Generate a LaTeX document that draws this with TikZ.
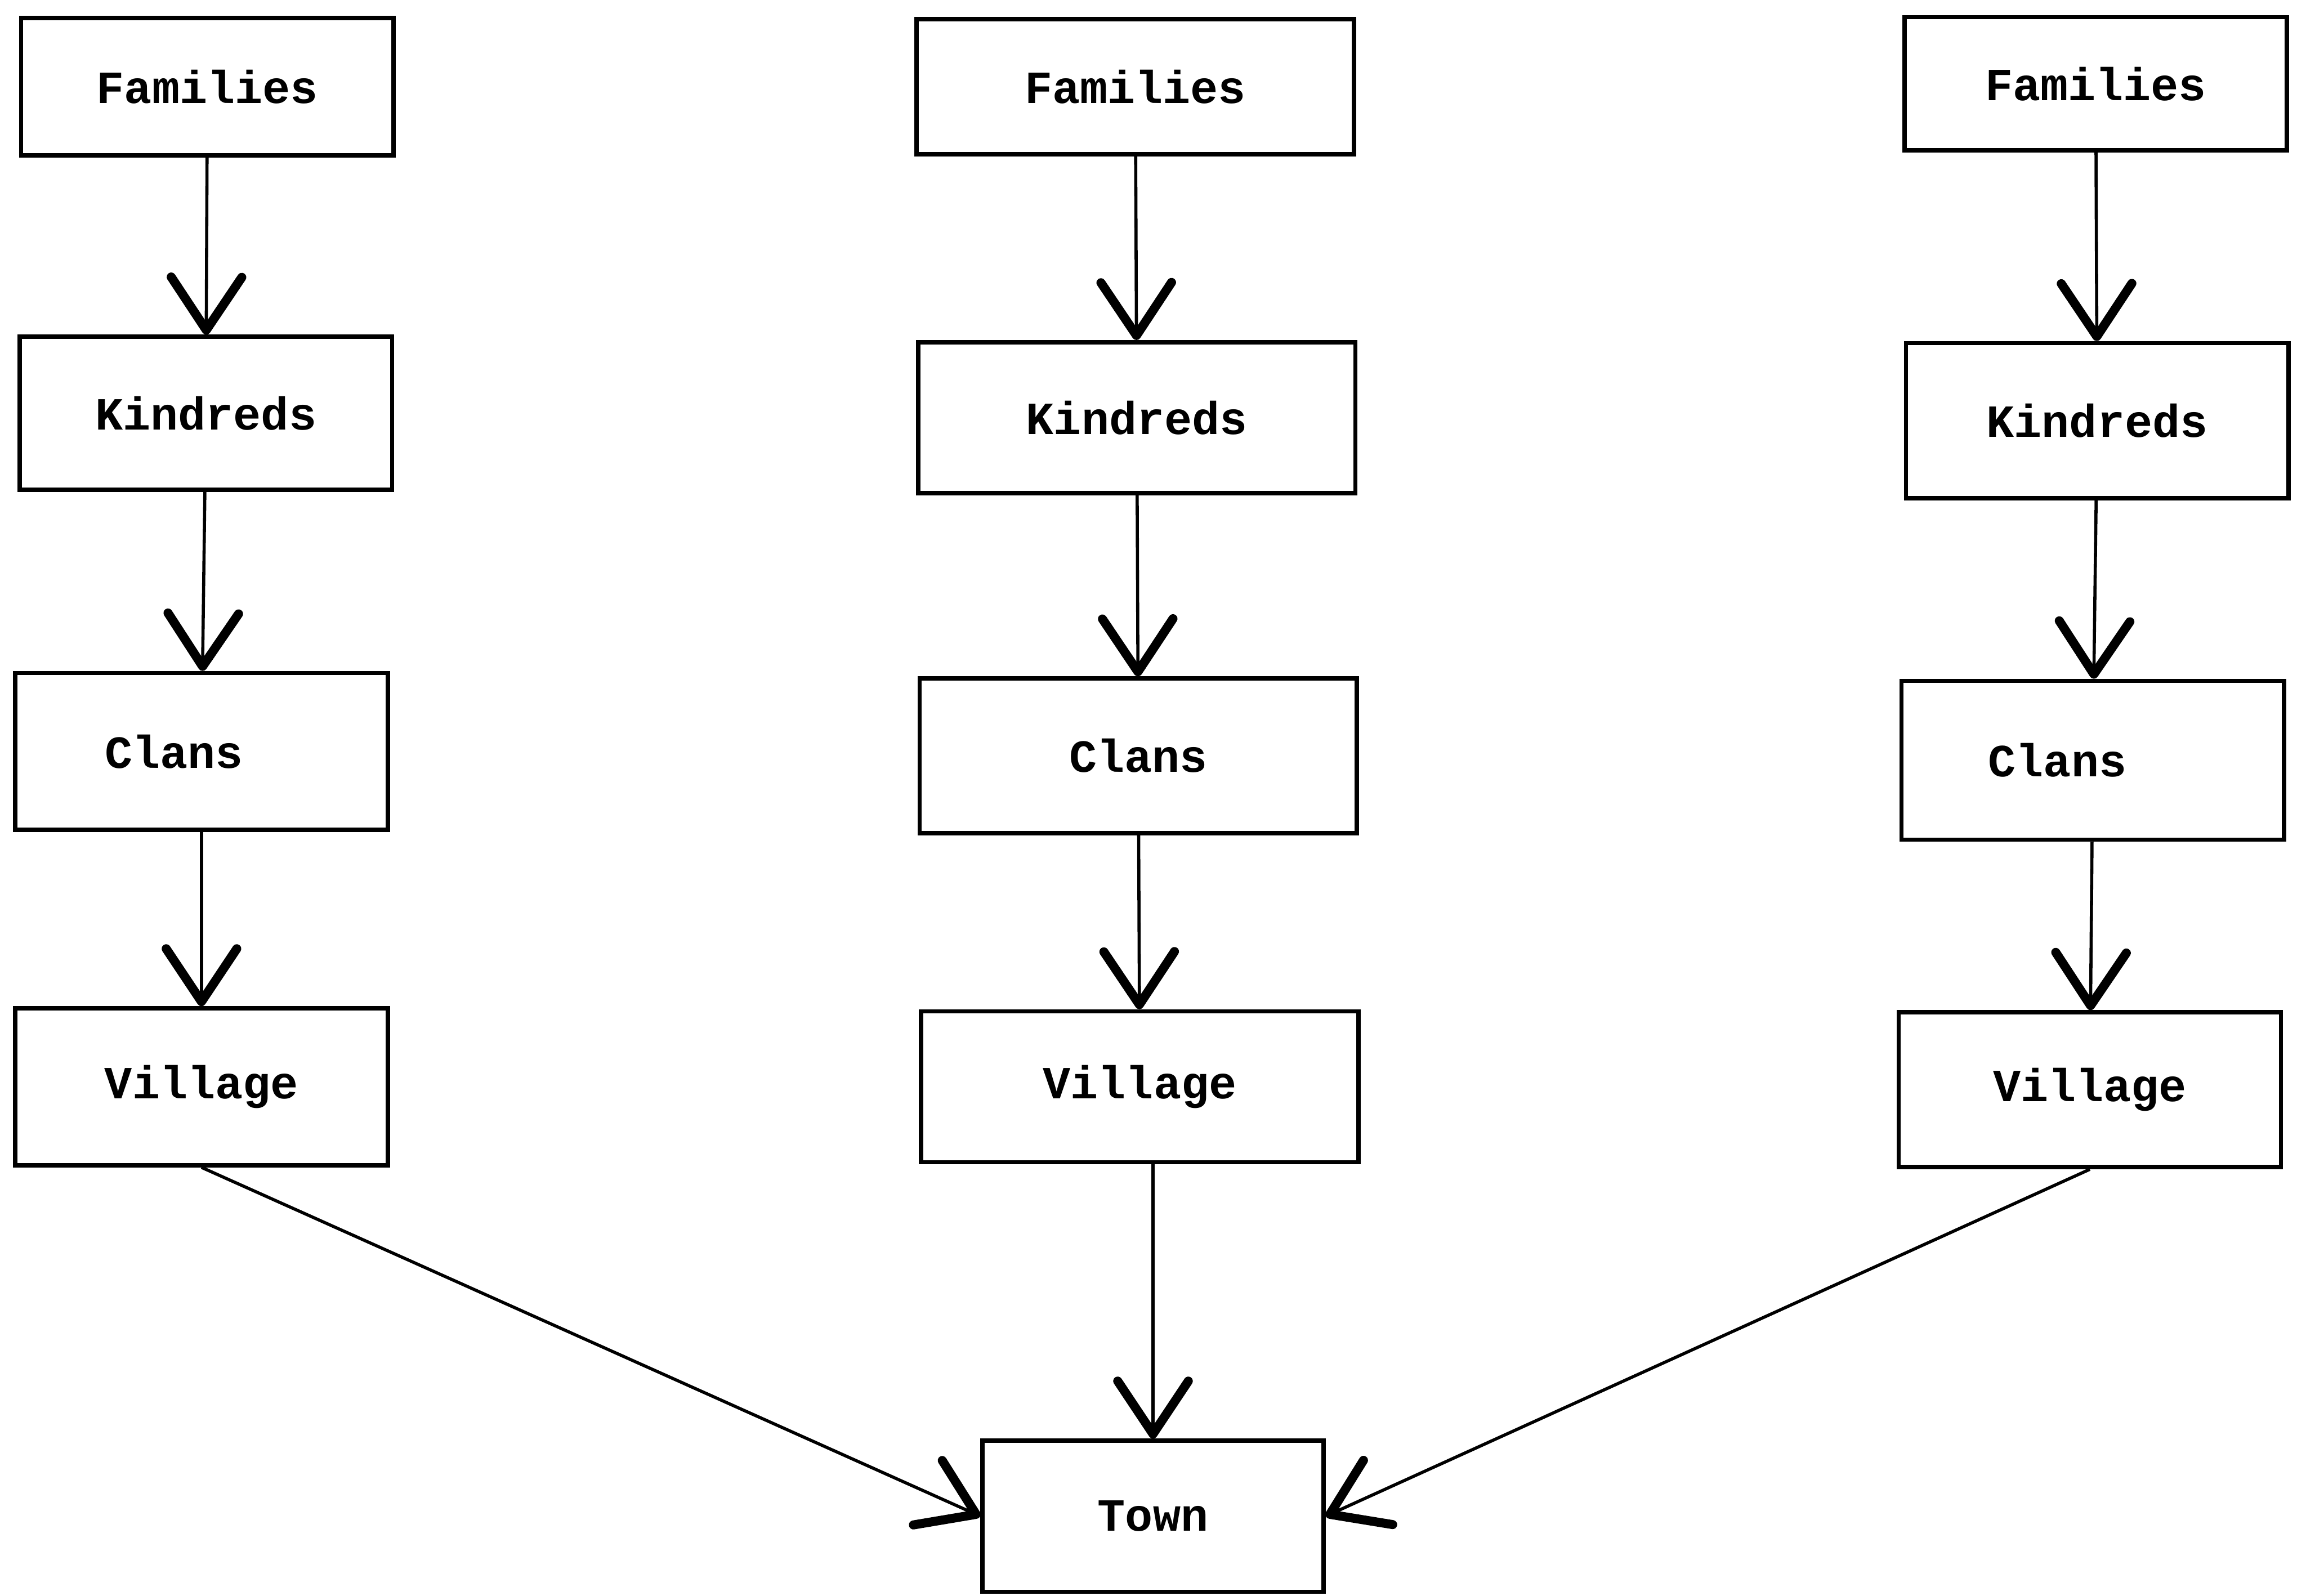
\documentclass[tikz,border=0pt]{standalone}
\usepackage{fontspec}
\setmonofont{Liberation Mono}
\usetikzlibrary{arrows.meta}

\tikzset{every picture/.style={line width=0.75pt}}
\tikzset{
  box/.style={draw, line width=2.2pt, inner sep=0pt, font=\ttfamily\bfseries\fontsize{23.5}{28}\selectfont},
  lvlA/.style={box, minimum width=190pt},
  lvlB/.style={box, minimum width=223pt},
  lvlC/.style={box, minimum width=195pt},
  link/.style={line width=1.6pt, -{Straight Barb[length=27pt,width=36pt,line width=4.6pt,round]}}
}

\begin{document}
\begin{tikzpicture}[x=0.75pt,y=0.75pt,yscale=-1,xscale=1]

\useasboundingbox (0,0) rectangle (1568,1085);

% left column
\node (famA) at (141,59) [lvlA, minimum height=70pt] {Families};
\node (kinA) at (140,281) [lvlA, minimum height=78pt] {Kindreds};
\node (claA) at (137,511) [lvlA, minimum height=80pt] {Clans\hspace*{28pt}};
\node (vilA) at (137,739) [lvlA, minimum height=80pt] {Village};

% middle column
\node (famB) at (772,59) [lvlB, minimum height=69pt] {Families};
\node (kinB) at (773,284) [lvlB, minimum height=77pt] {Kindreds};
\node (claB) at (774,514) [lvlB, minimum height=79pt] {Clans};
\node (vilB) at (775,739) [lvlB, minimum height=77pt] {Village};

% right column
\node (famC) at (1425,57) [lvlC, minimum height=68pt] {Families};
\node (kinC) at (1426,286) [lvlC, minimum height=79pt] {Kindreds};
\node (claC) at (1423,517) [lvlC, minimum height=81pt] {Clans\hspace*{36pt}};
\node (vilC) at (1421,741) [lvlC, minimum height=79pt] {Village};

\node (town) at (784,1031) [box, minimum width=174pt, minimum height=77pt] {Town};

\draw [link] (famA) -- (kinA);
\draw [link] (kinA) -- (claA);
\draw [link] (claA) -- (vilA);
\draw [link] (famB) -- (kinB);
\draw [link] (kinB) -- (claB);
\draw [link] (claB) -- (vilB);
\draw [link] (famC) -- (kinC);
\draw [link] (kinC) -- (claC);
\draw [link] (claC) -- (vilC);

\draw [link] (vilA.south) -- (town.west);
\draw [link] (vilB.south -| town) -- (town.north);
\draw [link] (vilC.south) -- (town.east);

\end{tikzpicture}
\end{document}
